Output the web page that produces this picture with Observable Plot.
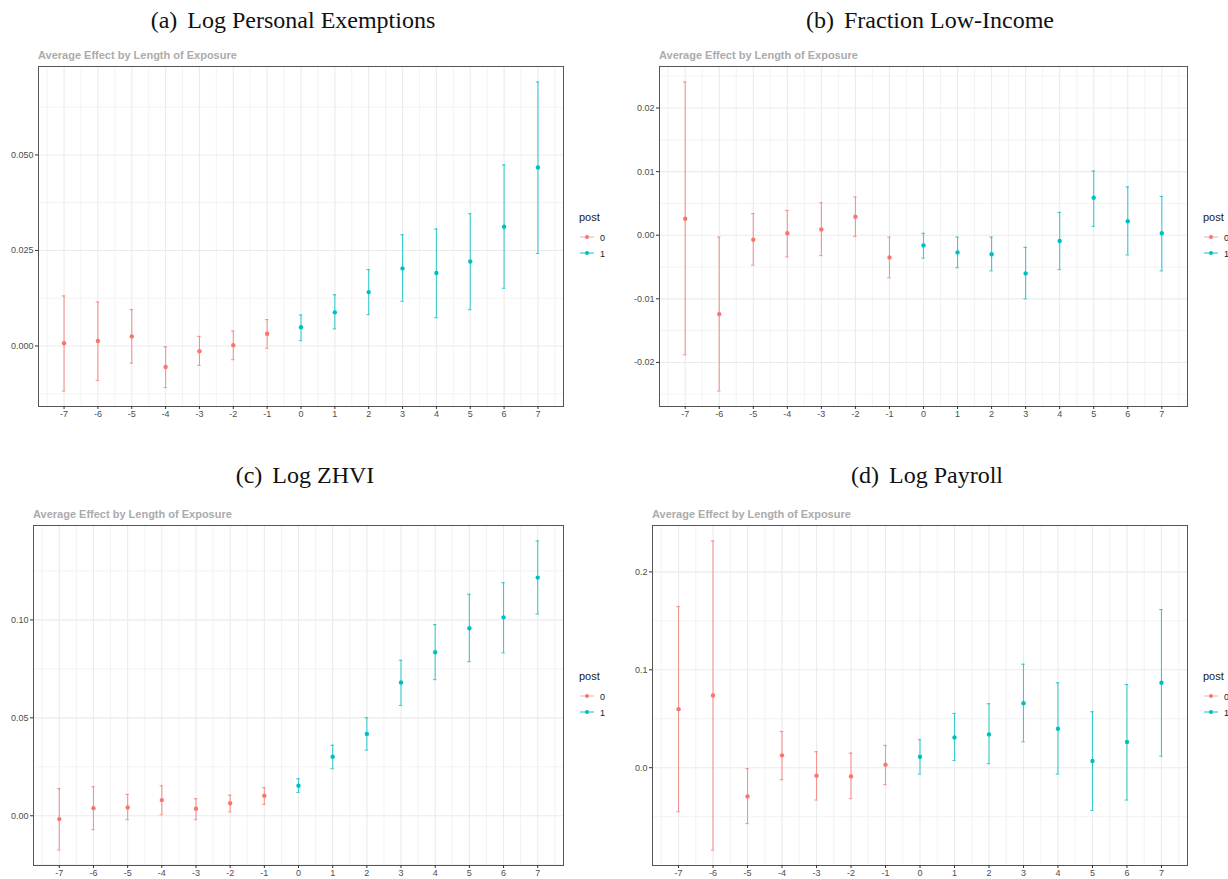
<!DOCTYPE html>
<html>
<head>
<meta charset="utf-8">
<script src="https://cdn.jsdelivr.net/npm/d3@7"></script>
<script src="https://cdn.jsdelivr.net/npm/@observablehq/plot@0.6"></script>
<style>
  html, body { margin: 0; padding: 0; background: #fff; }
  #root { position: relative; width: 1228px; height: 879px; overflow: hidden; font-family: "Liberation Sans", Arial, sans-serif; }
  .panel { position: absolute; }
  #overlay { position: absolute; left: 0; top: 0; pointer-events: none; }
</style>
</head>
<body>
<div id="root"></div>
<script>
// ---------- data ----------
const periods = [-7, -6, -5, -4, -3, -2, -1, 0, 1, 2, 3, 4, 5, 6, 7];
const postGroup = [0, 0, 0, 0, 0, 0, 0, 1, 1, 1, 1, 1, 1, 1, 1];
const xMinorTicks = [-7.5, -6.5, -5.5, -4.5, -3.5, -2.5, -1.5, -0.5, 0.5, 1.5, 2.5, 3.5, 4.5, 5.5, 6.5, 7.5];
const legendLabels = ["0", "1"];
const groupColors = ["#F8766D", "#00BFC4"];
const subtitleText = "Average Effect by Length of Exposure";
const legendTitle = "post";

// (a) Log Personal Exemptions
const exemptTitle = ["(a)", "Log Personal Exemptions"];
const exemptEst = [0.0007, 0.0013, 0.0025, -0.0055, -0.0014, 0.0002, 0.0032, 0.0049, 0.0088, 0.0141, 0.0203, 0.0191, 0.0221, 0.0312, 0.0467];
const exemptLo  = [-0.0118, -0.0090, -0.0045, -0.0109, -0.0051, -0.0036, -0.0006, 0.0014, 0.0045, 0.0082, 0.0117, 0.0074, 0.0095, 0.0151, 0.0242];
const exemptHi  = [0.0131, 0.0115, 0.0095, -0.0002, 0.0025, 0.0039, 0.0069, 0.0081, 0.0134, 0.0200, 0.0291, 0.0306, 0.0346, 0.0474, 0.0691];
const exemptTicks = [0, 0.025, 0.05];
const exemptTickLabels = ["0.000", "0.025", "0.050"];
const exemptMinor = [-0.0125, 0.0125, 0.0375, 0.0625];

// (b) Fraction Low-Income
const lowIncTitle = ["(b)", "Fraction Low-Income"];
const lowIncEst = [0.0026, -0.0124, -0.0007, 0.0003, 0.0009, 0.0029, -0.0035, -0.0016, -0.0027, -0.0030, -0.0060, -0.0009, 0.0059, 0.0022, 0.0003];
const lowIncLo  = [-0.0188, -0.0245, -0.0047, -0.0034, -0.0032, -0.0002, -0.0067, -0.0036, -0.0051, -0.0056, -0.0100, -0.0054, 0.0014, -0.0031, -0.0056];
const lowIncHi  = [0.0241, -0.0003, 0.0034, 0.0039, 0.0051, 0.0060, -0.0003, 0.0003, -0.0003, -0.0003, -0.0019, 0.0036, 0.0101, 0.0076, 0.0061];
const lowIncTicks = [-0.02, -0.01, 0, 0.01, 0.02];
const lowIncTickLabels = ["-0.02", "-0.01", "0.00", "0.01", "0.02"];
const lowIncMinor = [-0.025, -0.015, -0.005, 0.005, 0.015, 0.025];

// (c) Log ZHVI
const zhviTitle = ["(c)", "Log ZHVI"];
const zhviEst = [-0.0017, 0.0039, 0.0042, 0.0080, 0.0036, 0.0064, 0.0102, 0.0153, 0.0301, 0.0418, 0.0680, 0.0835, 0.0957, 0.1013, 0.1216];
const zhviLo  = [-0.0175, -0.0071, -0.0020, 0.0005, -0.0020, 0.0020, 0.0058, 0.0119, 0.0240, 0.0335, 0.0563, 0.0695, 0.0787, 0.0832, 0.1030];
const zhviHi  = [0.0138, 0.0148, 0.0109, 0.0153, 0.0087, 0.0105, 0.0143, 0.0189, 0.0360, 0.0500, 0.0794, 0.0976, 0.1131, 0.1190, 0.1403];
const zhviTicks = [0, 0.05, 0.1];
const zhviTickLabels = ["0.00", "0.05", "0.10"];
const zhviMinor = [-0.025, 0.025, 0.075, 0.125];

// (d) Log Payroll
const payrollTitle = ["(d)", "Log Payroll"];
const payrollEst = [0.0598, 0.0738, -0.0293, 0.0126, -0.0082, -0.0089, 0.0031, 0.0112, 0.0309, 0.0340, 0.0659, 0.0398, 0.0068, 0.0262, 0.0867];
const payrollLo  = [-0.0449, -0.0841, -0.0571, -0.0122, -0.0330, -0.0316, -0.0173, -0.0065, 0.0074, 0.0041, 0.0265, -0.0065, -0.0436, -0.0330, 0.0118];
const payrollHi  = [0.1646, 0.2316, -0.0010, 0.0370, 0.0163, 0.0149, 0.0228, 0.0286, 0.0554, 0.0653, 0.1057, 0.0867, 0.0571, 0.0850, 0.1615];
const payrollTicks = [0, 0.1, 0.2];
const payrollTickLabels = ["0.0", "0.1", "0.2"];
const payrollMinor = [-0.05, 0.05, 0.15];

// ---------- layout (frame edges in page px) ----------
const panels = [
  {title: exemptTitle, titleCx: 293, titleY: 28, est: exemptEst, lo: exemptLo, hi: exemptHi, ticks: exemptTicks, labels: exemptTickLabels, minor: exemptMinor, svgLeft: 0, L: 38, R: 563, T: 66, B: 406},
  {title: lowIncTitle, titleCx: 930, titleY: 28, est: lowIncEst, lo: lowIncLo, hi: lowIncHi, ticks: lowIncTicks, labels: lowIncTickLabels, minor: lowIncMinor, svgLeft: 615, L: 659, R: 1187, T: 66, B: 406},
  {title: zhviTitle, titleCx: 305, titleY: 483, est: zhviEst, lo: zhviLo, hi: zhviHi, ticks: zhviTicks, labels: zhviTickLabels, minor: zhviMinor, svgLeft: 0, L: 33, R: 563, T: 525, B: 865},
  {title: payrollTitle, titleCx: 927, titleY: 483, est: payrollEst, lo: payrollLo, hi: payrollHi, ticks: payrollTicks, labels: payrollTickLabels, minor: payrollMinor, svgLeft: 615, L: 652, R: 1187, T: 525, B: 865}
];

const root = document.getElementById("root");
const capHalf = 0.05;
const xSpan = periods[periods.length - 1] - periods[0] + 2 * capHalf;
const xDomain = [periods[0] - capHalf - 0.05 * xSpan, periods[periods.length - 1] + capHalf + 0.05 * xSpan];

const mTop = 8, mBottom = 14, mRight = 2;

panels.forEach(p => {
  const rows = periods.map((t, i) => ({t, post: postGroup[i], est: p.est[i], lo: p.lo[i], hi: p.hi[i]}));
  const yMin = d3.min(p.lo), yMax = d3.max(p.hi);
  const pad = 0.05 * (yMax - yMin);
  const chart = Plot.plot({
    width: p.R - p.svgLeft + mRight,
    height: (p.B - p.T) + mTop + mBottom,
    marginLeft: p.L - p.svgLeft,
    marginRight: mRight,
    marginTop: mTop,
    marginBottom: mBottom,
    style: {fontFamily: "'Liberation Sans', Arial, sans-serif", fontSize: "9px", background: "transparent", overflow: "visible"},
    x: {domain: xDomain, axis: null},
    y: {domain: [yMin - pad, yMax + pad], axis: null},
    color: {type: "ordinal", domain: [0, 1], range: groupColors},
    marks: [
      Plot.gridX(xMinorTicks, {stroke: "#ebebeb", strokeOpacity: 1, strokeWidth: 0.6}),
      Plot.gridY(p.minor, {stroke: "#ebebeb", strokeOpacity: 1, strokeWidth: 0.6}),
      Plot.gridX(periods, {stroke: "#ebebeb", strokeOpacity: 1, strokeWidth: 1.1}),
      Plot.gridY(p.ticks, {stroke: "#ebebeb", strokeOpacity: 1, strokeWidth: 1.1}),
      Plot.ruleX(rows, {x: "t", y1: "lo", y2: "hi", stroke: "post", strokeWidth: 1.1, strokeOpacity: 0.75}),
      Plot.ruleY(rows, {y: "hi", x1: d => d.t - capHalf, x2: d => d.t + capHalf, stroke: "post", strokeWidth: 1.1, strokeOpacity: 0.75}),
      Plot.ruleY(rows, {y: "lo", x1: d => d.t - capHalf, x2: d => d.t + capHalf, stroke: "post", strokeWidth: 1.1, strokeOpacity: 0.75}),
      Plot.dot(rows, {x: "t", y: "est", fill: "post", r: 2.2}),
      Plot.frame({stroke: "#555", strokeWidth: 1}),
      Plot.axisY(p.ticks, {label: null, tickFormat: d => p.labels[p.ticks.indexOf(d)], tickSize: 3, tickPadding: 2, stroke: "#333", fill: "#4d4d4d", fontSize: 9}),
      Plot.axisX(periods, {label: null, tickFormat: d => String(d), tickSize: 3, tickPadding: 1, stroke: "#333", fill: "#4d4d4d", fontSize: 9})
    ]
  });
  const wrap = document.createElement("div");
  wrap.className = "panel";
  wrap.style.left = p.svgLeft + "px";
  wrap.style.top = (p.T - mTop) + "px";
  wrap.appendChild(chart);
  root.appendChild(wrap);
});

// ---------- overlay text: titles, subtitles, legends ----------
const ns = "http://www.w3.org/2000/svg";
const ov = document.createElementNS(ns, "svg");
ov.setAttribute("id", "overlay");
ov.setAttribute("width", 1228);
ov.setAttribute("height", 879);
root.appendChild(ov);
function txt(x, y, s, attrs) {
  const t = document.createElementNS(ns, "text");
  t.setAttribute("x", x); t.setAttribute("y", y);
  for (const k in attrs) t.setAttribute(k, attrs[k]);
  t.textContent = s;
  ov.appendChild(t);
  return t;
}
panels.forEach(p => {
  const t = document.createElementNS(ns, "text");
  t.setAttribute("x", p.titleCx); t.setAttribute("y", p.titleY);
  t.setAttribute("text-anchor", "middle");
  t.setAttribute("font-family", "'Liberation Serif', 'DejaVu Serif', serif");
  t.setAttribute("font-size", "24");
  t.setAttribute("fill", "#111");
  const a = document.createElementNS(ns, "tspan"); a.textContent = p.title[0];
  const b = document.createElementNS(ns, "tspan"); b.setAttribute("dx", "10"); b.textContent = p.title[1];
  t.appendChild(a); t.appendChild(b);
  ov.appendChild(t);

  txt(p.L, p.T - 7, subtitleText, {"font-family": "'Liberation Sans', Arial, sans-serif", "font-size": "11", "font-weight": "bold", fill: "#ababab"});

  const lx = p.R + 16, ly = p.T + 155;
  txt(lx, ly, legendTitle, {"font-family": "'Liberation Sans', Arial, sans-serif", "font-size": "11", fill: "#1a1a1a"});
  legendLabels.forEach((lab, i) => {
    const yy = ly + 16 + i * 16;
    const ln = document.createElementNS(ns, "line");
    ln.setAttribute("x1", lx + 1); ln.setAttribute("x2", lx + 15);
    ln.setAttribute("y1", yy); ln.setAttribute("y2", yy);
    ln.setAttribute("stroke", groupColors[i]); ln.setAttribute("stroke-width", "1.1");
    ln.setAttribute("stroke-opacity", i === 0 ? "0.55" : "0.85");
    ov.appendChild(ln);
    const c = document.createElementNS(ns, "circle");
    c.setAttribute("cx", lx + 8); c.setAttribute("cy", yy); c.setAttribute("r", 2);
    c.setAttribute("fill", groupColors[i]);
    ov.appendChild(c);
    txt(lx + 21, yy + 3.5, lab, {"font-family": "'Liberation Sans', Arial, sans-serif", "font-size": "9", fill: "#1a1a1a"});
  });
});
</script>
</body>
</html>
